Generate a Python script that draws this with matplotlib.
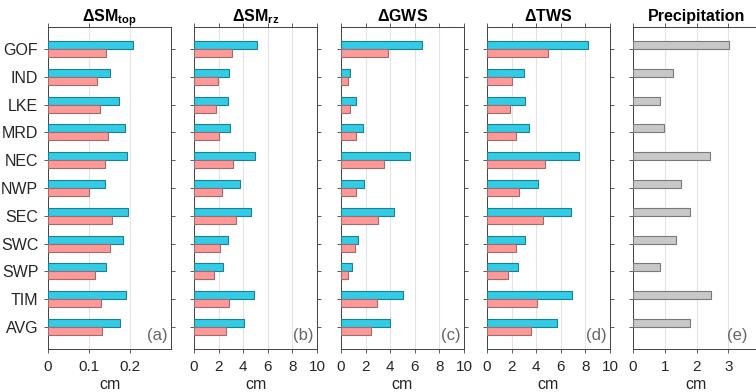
import numpy as np
import matplotlib
matplotlib.use("Agg")
import matplotlib.pyplot as plt

plt.rcParams['font.family'] = ['Liberation Sans', 'DejaVu Sans']
plt.rcParams['mathtext.fontset'] = 'custom'
plt.rcParams['mathtext.rm'] = 'Liberation Sans'
plt.rcParams['mathtext.bf'] = 'Liberation Sans:bold'

regions = ['GOF', 'IND', 'LKE', 'MRD', 'NEC', 'NWP', 'SEC', 'SWC', 'SWP', 'TIM', 'AVG']

sm_top_cyan = [0.208, 0.152, 0.174, 0.189, 0.193, 0.139, 0.194, 0.182, 0.142, 0.191, 0.176]
sm_top_pink = [0.141, 0.120, 0.128, 0.147, 0.140, 0.101, 0.157, 0.152, 0.115, 0.130, 0.132]

sm_rz_cyan = [5.16, 2.88, 2.80, 2.91, 4.92, 3.70, 4.62, 2.74, 2.36, 4.84, 4.05]
sm_rz_pink = [3.10, 1.98, 1.77, 2.04, 3.18, 2.28, 3.42, 2.15, 1.63, 2.85, 2.64]

gws_cyan = [6.58, 0.76, 1.25, 1.77, 5.60, 1.90, 4.29, 1.41, 0.92, 5.00, 3.99]
gws_pink = [3.80, 0.60, 0.76, 1.25, 3.51, 1.25, 3.02, 1.17, 0.60, 2.91, 2.47]

tws_cyan = [8.18, 3.02, 3.10, 3.45, 7.50, 4.16, 6.79, 3.10, 2.55, 6.93, 5.73]
tws_pink = [4.92, 2.04, 1.90, 2.36, 4.73, 2.64, 4.54, 2.39, 1.74, 4.08, 3.61]

precip = [3.01, 1.26, 0.85, 0.97, 2.43, 1.50, 1.79, 1.37, 0.84, 2.46, 1.80]

titles = [r'$\mathbf{\Delta SM_{top}}$', r'$\mathbf{\Delta SM_{rz}}$',
          r'$\mathbf{\Delta GWS}$', r'$\mathbf{\Delta TWS}$', 'Precipitation']
letters = ['(a)', '(b)', '(c)', '(d)', '(e)']

cyan, cyan_edge = '#33CCE6', '#1E7F8F'
pink, pink_edge = '#FF9999', '#A36A6A'
gray, gray_edge = '#C8C8C8', '#7A7A7A'
txt = '#262626'

W, H = 756, 392
fig = plt.figure(figsize=(W / 100, H / 100), dpi=100)

lefts = [48, 194, 341, 487, 633]
top, bottom = 27, 349
y = np.arange(len(regions))
bh = 0.29

panels = [
    (sm_top_cyan, sm_top_pink, (0, 0.3), [0, 0.1, 0.2], ['0', '0.1', '0.2']),
    (sm_rz_cyan, sm_rz_pink, (0, 10), [0, 2, 4, 6, 8, 10], None),
    (gws_cyan, gws_pink, (0, 10), [0, 2, 4, 6, 8, 10], None),
    (tws_cyan, tws_pink, (0, 10), [0, 2, 4, 6, 8, 10], None),
    (precip, None, (0, 4), [0, 1, 2, 3, 4], None),
]

for i, (c, p, xl, xt, xtl) in enumerate(panels):
    w = 127 if i == 4 else 123
    ax = fig.add_axes([lefts[i] / W, (H - bottom) / H, w / W, (bottom - top) / H])
    if p is None:
        ax.barh(y - bh / 2, c, height=bh, color=gray, edgecolor=gray_edge, linewidth=0.8, zorder=3)
    else:
        ax.barh(y - bh / 2, c, height=bh, color=cyan, edgecolor=cyan_edge, linewidth=0.8, zorder=3)
        ax.barh(y + bh / 2, p, height=bh, color=pink, edgecolor=pink_edge, linewidth=0.8, zorder=3)
    ax.set_xlim(*xl)
    ax.set_ylim(len(regions) - 1 + 0.79, -0.79)
    ax.set_xticks(xt)
    if xtl:
        ax.set_xticklabels(xtl)
    ax.set_yticks(y)
    if i == 0:
        ax.set_yticklabels(regions, color=txt)
    else:
        ax.set_yticklabels([])
    ax.tick_params(direction='out', length=3, width=0.6, color='#404040',
                   top=True, right=True, labelsize=11, labelcolor=txt, pad=5)
    ax.tick_params(axis='y', labelsize=11.5, pad=4)
    ax.grid(axis='x', color='#E3E3E3', linewidth=0.8, zorder=0)
    for s in ax.spines.values():
        s.set_color('#404040')
        s.set_linewidth(0.7)
    ax.set_xlabel('cm', fontsize=11.5, color=txt, labelpad=2)
    ax.set_title(titles[i], fontsize=11.5, fontweight='bold', color='black', pad=4)
    xr = 115 / w if i == 4 else 0.97
    ax.text(xr, 0.02, letters[i], transform=ax.transAxes, ha='right', va='bottom',
            fontsize=12, color='#666666')

fig.savefig('out.png', dpi=100)
